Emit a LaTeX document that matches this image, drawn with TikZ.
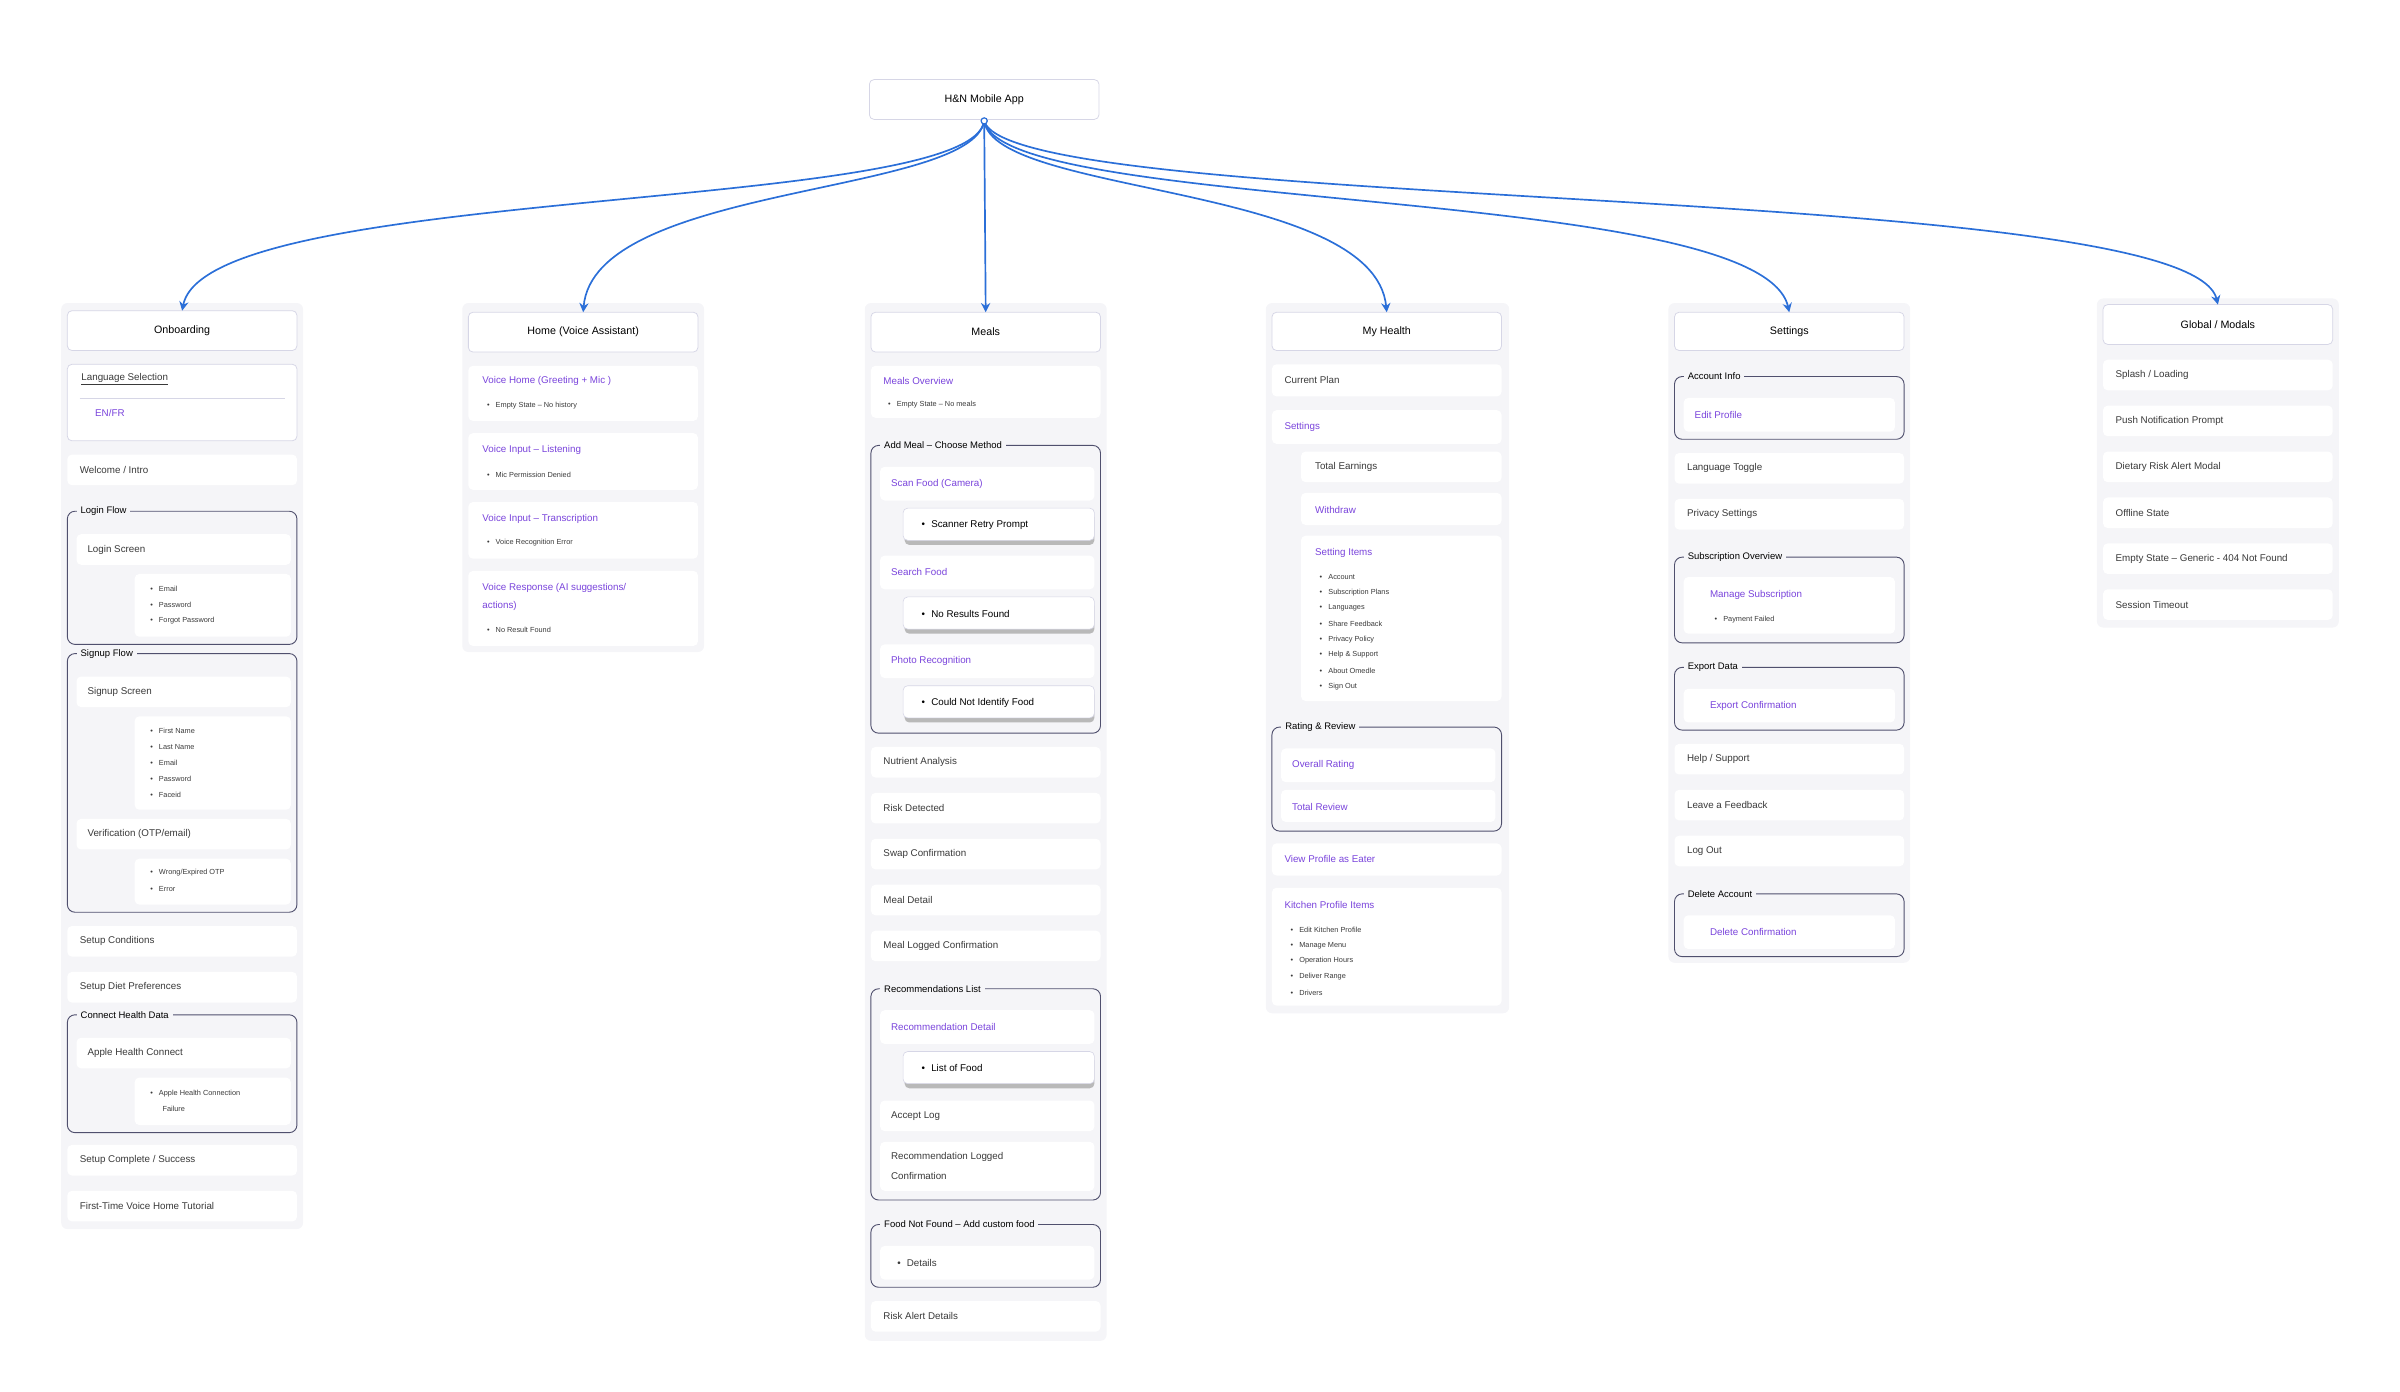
\documentclass[tikz,border=0pt]{standalone}
\usepackage{fontspec}
\setmainfont{Liberation Sans}
\usetikzlibrary{arrows.meta}
\definecolor{colbg}{HTML}{F5F5F8}
\definecolor{hdrline}{HTML}{D6D6E6}
\definecolor{frameline}{HTML}{50506E}
\definecolor{violet}{HTML}{7A44DC}
\definecolor{arrowblue}{HTML}{2B6FD8}
\definecolor{txtgray}{HTML}{3A3A3A}
\newcommand{\card}[6][card]{\node[#1, minimum width={(#4)-(#2)}, minimum height={(#5)-(#3)}, anchor=north west] (#6) at (#2,#3) {};}
\newcommand{\frameb}[6]{\draw[frame] (#2,#3) rectangle (#4,#5); \node[flabel] (#1) at (#2+6,#3) {#6};}
\begin{document}
\begin{tikzpicture}[x=1pt,y=-1pt,
  card/.style={fill=white, rounded corners=3pt, inner sep=0pt, outer sep=0pt},
  header/.style={card, draw=hdrline, line width=0.5pt},
  sub/.style={card, draw=hdrline, line width=0.4pt},
  frame/.style={draw=frameline, line width=0.6pt, rounded corners=5pt},
  flabel/.style={anchor=west, fill=colbg, inner sep=2.5pt, font=\fontsize{6.2}{7}\selectfont, text=black},
  txt/.style={anchor=west, inner sep=0pt, font=\fontsize{6.4}{7.5}\selectfont, text=txtgray},
  ptxt/.style={txt, text=violet},
  small/.style={anchor=west, inner sep=0pt, font=\fontsize{4.8}{5.5}\selectfont, text=txtgray},
  htxt/.style={inner sep=0pt, font=\fontsize{7}{8}\selectfont, text=black},
  link/.style={draw=arrowblue, line width=1.1pt, -{Stealth[length=6pt,width=6pt]}}]
\useasboundingbox (0,0) rectangle (1568,909);

% column backgrounds
\fill[colbg, rounded corners=4pt] (40,198) rectangle (198,803);
\fill[colbg, rounded corners=4pt] (302,198) rectangle (460,426);
\fill[colbg, rounded corners=4pt] (565,198) rectangle (723,876);
\fill[colbg, rounded corners=4pt] (827,198) rectangle (986,662);
\fill[colbg, rounded corners=4pt] (1090,198) rectangle (1248,629);
\fill[colbg, rounded corners=4pt] (1370,195) rectangle (1528,410);

% root
\card[header]{568}{52}{718}{78}{root}
\node[htxt] (rootT) at (root.center) {H\&N Mobile App};
\coordinate (rootdot) at (643,79);

% headers
\card[header]{44}{203}{194}{229}{onb}  \node[htxt] at (onb.center) {Onboarding};
\card[header]{306}{204}{456}{230}{home} \node[htxt] at (home.center) {Home (Voice Assistant)};
\card[header]{569}{204}{719}{230}{meals} \node[htxt] at (meals.center) {Meals};
\card[header]{831}{204}{981}{229}{health} \node[htxt] at (health.center) {My Health};
\card[header]{1094}{204}{1244}{229}{sett} \node[htxt] at (sett.center) {Settings};
\card[header]{1374}{199}{1524}{225}{glob} \node[htxt] at (glob.center) {Global / Modals};

% connectors
\draw[link] (rootdot) .. controls (635,140) and (135,120) .. (onb.north);
\draw[link] (rootdot) .. controls (635,128) and (388,120) .. (home.north);
\draw[link] (rootdot) -- (meals.north);
\draw[link] (rootdot) .. controls (650,128) and (898,120) .. (health.north);
\draw[link] (rootdot) .. controls (655,140) and (1150,120) .. (sett.north);
\draw[link] (rootdot) .. controls (660,140) and (1430,118) .. (glob.north);
\draw[arrowblue, fill=white, line width=0.8pt] (rootdot) circle (2pt);

%% Onboarding
\card[header]{44}{238}{194}{288}{lang}
\node[txt] (langT) at (53,248) {\underline{Language Selection}};
\draw[hdrline] (52,260) -- (186,260);
\node[ptxt] (enfr) at (62,270) {EN/FR};
\card{44}{297}{194}{317}{welc} \node[txt] at (52,307) {Welcome / Intro};
\frameb{loginF}{44}{334}{194}{421}{Login Flow}
\card{50}{349}{190}{369}{loginS} \node[txt] at (57,359) {Login Screen};
\card{88}{375}{190}{416}{loginB}
\foreach \t [count=\i] in {Email,Password,Forgot Password}
  \node[small] (lb\i) at (98,374.5+10.3*\i) {\textbullet\hspace{4pt}\t};
\frameb{signF}{44}{427}{194}{596}{Signup Flow}
\card{50}{442}{190}{462}{signS} \node[txt] at (57,452) {Signup Screen};
\card{88}{468}{190}{529}{signB}
\foreach \t [count=\i] in {First Name,Last Name,Email,Password,Faceid}
  \node[small] (sb\i) at (98,467.5+10.3*\i) {\textbullet\hspace{4pt}\t};
\card{50}{535}{190}{555}{verif} \node[txt] at (57,545) {Verification (OTP/email)};
\card{88}{561}{190}{591}{verB}
\foreach \t [count=\i] in {Wrong/Expired OTP,Error}
  \node[small] (vb\i) at (98,560+10.3*\i) {\textbullet\hspace{4pt}\t};
\card{44}{605}{194}{625}{cond} \node[txt] at (52,615) {Setup Conditions};
\card{44}{635}{194}{655}{diet} \node[txt] at (52,645) {Setup Diet Preferences};
\frameb{healthF}{44}{663}{194}{740}{Connect Health Data}
\card{50}{678}{190}{698}{apple} \node[txt] at (57,688) {Apple Health Connect};
\card{88}{704}{190}{735}{appleB}
\node[small] (ab1) at (98,714.5) {\textbullet\hspace{4pt}Apple Health Connection};
\node[small] (ab2) at (106,724.5) {Failure};
\card{44}{748}{194}{768}{done} \node[txt] at (52,758) {Setup Complete / Success};
\card{44}{778}{194}{798}{tut} \node[txt] at (52,788) {First-Time Voice Home Tutorial};

%% Home
\card{306}{239}{456}{275}{vh} \node[ptxt] at (315,249) {Voice Home (Greeting + Mic )};
\node[small] (vh1) at (318,265) {\textbullet\hspace{4pt}Empty State -- No history};
\card{306}{283}{456}{320}{vl} \node[ptxt] at (315,294) {Voice Input -- Listening};
\node[small] (vl1) at (318,310) {\textbullet\hspace{4pt}Mic Permission Denied};
\card{306}{328}{456}{365}{vt} \node[ptxt] at (315,339) {Voice Input -- Transcription};
\node[small] (vt1) at (318,354.5) {\textbullet\hspace{4pt}Voice Recognition Error};
\card{306}{373}{456}{422}{vr} \node[ptxt] at (315,384) {Voice Response (AI suggestions/};
\node[ptxt] at (315,396) {actions)};
\node[small] (vr1) at (318,411.5) {\textbullet\hspace{4pt}No Result Found};

%% Meals
\card{569}{239}{719}{273}{mo} \node[ptxt] at (577,249) {Meals Overview};
\node[small] (mo1) at (580,264.5) {\textbullet\hspace{4pt}Empty State -- No meals};
\frameb{addF}{569}{291}{719}{479}{Add Meal -- Choose Method}
\foreach \y/\a/\b [count=\i] in {305/Scan Food (Camera)/Scanner Retry Prompt,363/Search Food/No Results Found,421/Photo Recognition/Could Not Identify Food}{
  \card{575}{\y}{715}{\y+22}{am\i} \node[ptxt] at (582,\y+11) {\a};
  \fill[gray!55, rounded corners=3pt] (591,\y+30) rectangle (715,\y+51);
  \card[sub]{590}{\y+27}{715}{\y+48}{amb\i}
  \node[txt, text=black] at (602,\y+38) {\textbullet\hspace{4pt}\b};
}
\foreach \y/\t [count=\i] in {488/Nutrient Analysis,518/Risk Detected,548/Swap Confirmation,578/Meal Detail,608/Meal Logged Confirmation}{
  \card{569}{\y}{719}{\y+20}{ml\i} \node[txt] at (577,\y+10) {\t};
}
\frameb{recF}{569}{646}{719}{784}{Recommendations List}
\card{575}{660}{715}{682}{rd} \node[ptxt] at (582,671) {Recommendation Detail};
\fill[gray!55, rounded corners=3pt] (591,690) rectangle (715,711);
\card[sub]{590}{687}{715}{708}{rdb} \node[txt, text=black] at (602,698) {\textbullet\hspace{4pt}List of Food};
\card{575}{719}{715}{739}{acc} \node[txt] at (582,729) {Accept Log};
\card{575}{746}{715}{778}{rlc} \node[txt] at (582,756) {Recommendation Logged};
\node[txt] at (582,768) {Confirmation};
\frameb{fnfF}{569}{800}{719}{841}{Food Not Found -- Add custom food}
\card{575}{814}{715}{836}{det} \node[txt] at (586,825) {\textbullet\hspace{4pt}Details};
\card{569}{850}{719}{870}{rad} \node[txt] at (577,860) {Risk Alert Details};

%% My Health
\card{831}{238}{981}{259}{cp} \node[txt] at (839,248.5) {Current Plan};
\card{831}{268}{981}{290}{hs} \node[ptxt] at (839,279) {Settings};
\card{850}{295}{981}{315}{te} \node[txt] at (859,305) {Total Earnings};
\card{850}{322}{981}{343}{wd} \node[ptxt] at (859,333) {Withdraw};
\card{850}{350}{981}{458}{si} \node[ptxt] at (859,361) {Setting Items};
\foreach \t [count=\i] in {Account,Subscription Plans,Languages,Share Feedback,Privacy Policy,Help \& Support,About Omedle,Sign Out}
  \node[small] (si\i) at (862,366.7+10.2*\i) {\textbullet\hspace{4pt}\t};
\frameb{rrF}{831}{475}{981}{543}{Rating \& Review}
\card{837}{489}{977}{511}{or} \node[ptxt] at (844,500) {Overall Rating};
\card{837}{516}{977}{537}{tr} \node[ptxt] at (844,527) {Total Review};
\card{831}{551}{981}{572}{vp} \node[ptxt] at (839,561.5) {View Profile as Eater};
\card{831}{580}{981}{657}{kp} \node[ptxt] at (839,591.5) {Kitchen Profile Items};
\foreach \t [count=\i] in {Edit Kitchen Profile,Manage Menu,Operation Hours,Deliver Range,Drivers}
  \node[small] (kp\i) at (843,597+10.3*\i) {\textbullet\hspace{4pt}\t};

%% Settings
\frameb{aiF}{1094}{246}{1244}{287}{Account Info}
\card{1100}{260}{1238}{282}{ep} \node[ptxt] at (1107,271) {Edit Profile};
\foreach \y/\t [count=\i] in {296/Language Toggle,326/Privacy Settings}{
  \card{1094}{\y}{1244}{\y+20}{st\i} \node[txt] at (1102,\y+10) {\t};
}
\frameb{soF}{1094}{364}{1244}{420}{Subscription Overview}
\card{1100}{377}{1238}{414}{ms} \node[ptxt] at (1117,389) {Manage Subscription};
\node[small] (pf) at (1120,405) {\textbullet\hspace{4pt}Payment Failed};
\frameb{edF}{1094}{436}{1244}{477}{Export Data}
\card{1100}{450}{1238}{472}{ec} \node[ptxt] at (1117,461) {Export Confirmation};
\foreach \y/\t [count=\i] in {486/{Help / Support},516/Leave a Feedback,546/Log Out}{
  \card{1094}{\y}{1244}{\y+20}{sb\i} \node[txt] at (1102,\y+10) {\t};
}
\frameb{daF}{1094}{584}{1244}{625}{Delete Account}
\card{1100}{598}{1238}{620}{dc} \node[ptxt] at (1117,609) {Delete Confirmation};

%% Global / Modals
\foreach \t [count=\i] in {Splash / Loading,Push Notification Prompt,Dietary Risk Alert Modal,Offline State,Empty State -- Generic - 404 Not Found,Session Timeout}{
  \card{1374}{205+30*\i}{1524}{225+30*\i}{gm\i} \node[txt] at (1382,215+30*\i) {\t};
}
\end{tikzpicture}
\end{document}
